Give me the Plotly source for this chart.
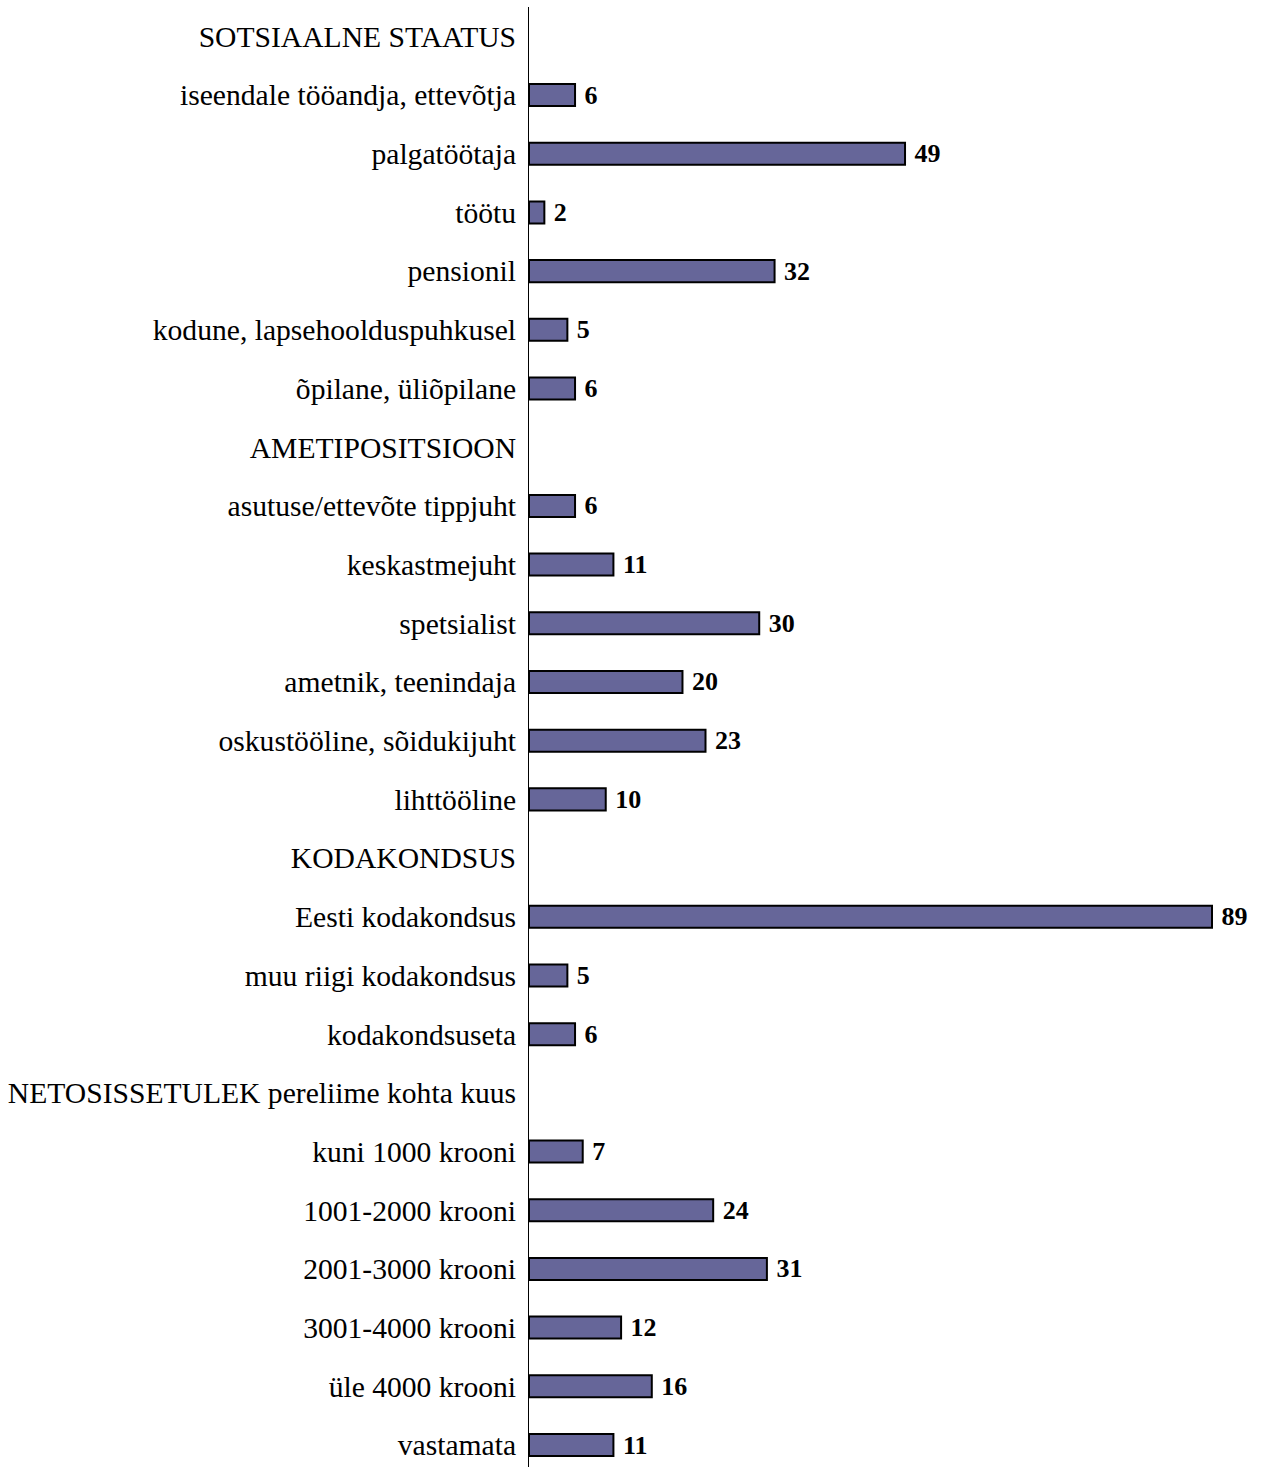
import plotly.graph_objects as go

# Rows from top to bottom; section headers carry no value
categories = [
    "SOTSIAALNE STAATUS",
    "iseendale tööandja, ettevõtja",
    "palgatöötaja",
    "töötu",
    "pensionil",
    "kodune, lapsehoolduspuhkusel",
    "õpilane, üliõpilane",
    "AMETIPOSITSIOON",
    "asutuse/ettevõte tippjuht",
    "keskastmejuht",
    "spetsialist",
    "ametnik, teenindaja",
    "oskustööline, sõidukijuht",
    "lihttööline",
    "KODAKONDSUS",
    "Eesti kodakondsus",
    "muu riigi kodakondsus",
    "kodakondsuseta",
    "NETOSISSETULEK pereliime kohta kuus",
    "kuni 1000 krooni",
    "1001-2000 krooni",
    "2001-3000 krooni",
    "3001-4000 krooni",
    "üle 4000 krooni",
    "vastamata",
]
values = [
    None, 6, 49, 2, 32, 5, 6,
    None, 6, 11, 30, 20, 23, 10,
    None, 89, 5, 6,
    None, 7, 24, 31, 12, 16, 11,
]

labels = ["" if v is None else f"\u00a0<b>{v}</b>" for v in values]

W, H = 1266, 1467
left, right, top, bottom = 529, 20, 7, 0
px_per_unit = 683 / 89
xmax = (W - left - right) / px_per_unit
band = (1445 - 36) / (len(categories) - 1)
y_bottom = len(categories) - 1 + (H - bottom - 1445) / band

fig = go.Figure(
    go.Bar(
        x=values,
        y=categories,
        orientation="h",
        width=0.375,
        marker=dict(color="#666699", line=dict(color="black", width=2)),
        text=labels,
        textposition="outside",
        constraintext="none",
        textfont=dict(family="Liberation Serif", size=26, color="black"),
        cliponaxis=False,
        hoverinfo="skip",
    )
)

fig.update_layout(
    width=W,
    height=H,
    margin=dict(l=left, r=right, t=top, b=bottom),
    paper_bgcolor="white",
    plot_bgcolor="white",
    showlegend=False,
    font=dict(family="Liberation Serif", color="black"),
    xaxis=dict(
        range=[0, xmax],
        visible=False,
        showgrid=False,
        zeroline=False,
    ),
    yaxis=dict(
        type="category",
        categoryorder="array",
        categoryarray=categories,
        range=[y_bottom, -0.5],
        showline=True,
        linecolor="black",
        linewidth=1,
        showgrid=False,
        zeroline=False,
        ticks="",
        ticklabelstandoff=6,
        tickfont=dict(family="Liberation Serif", size=29.6, color="black"),
    ),
)

fig.write_html("out.html")
